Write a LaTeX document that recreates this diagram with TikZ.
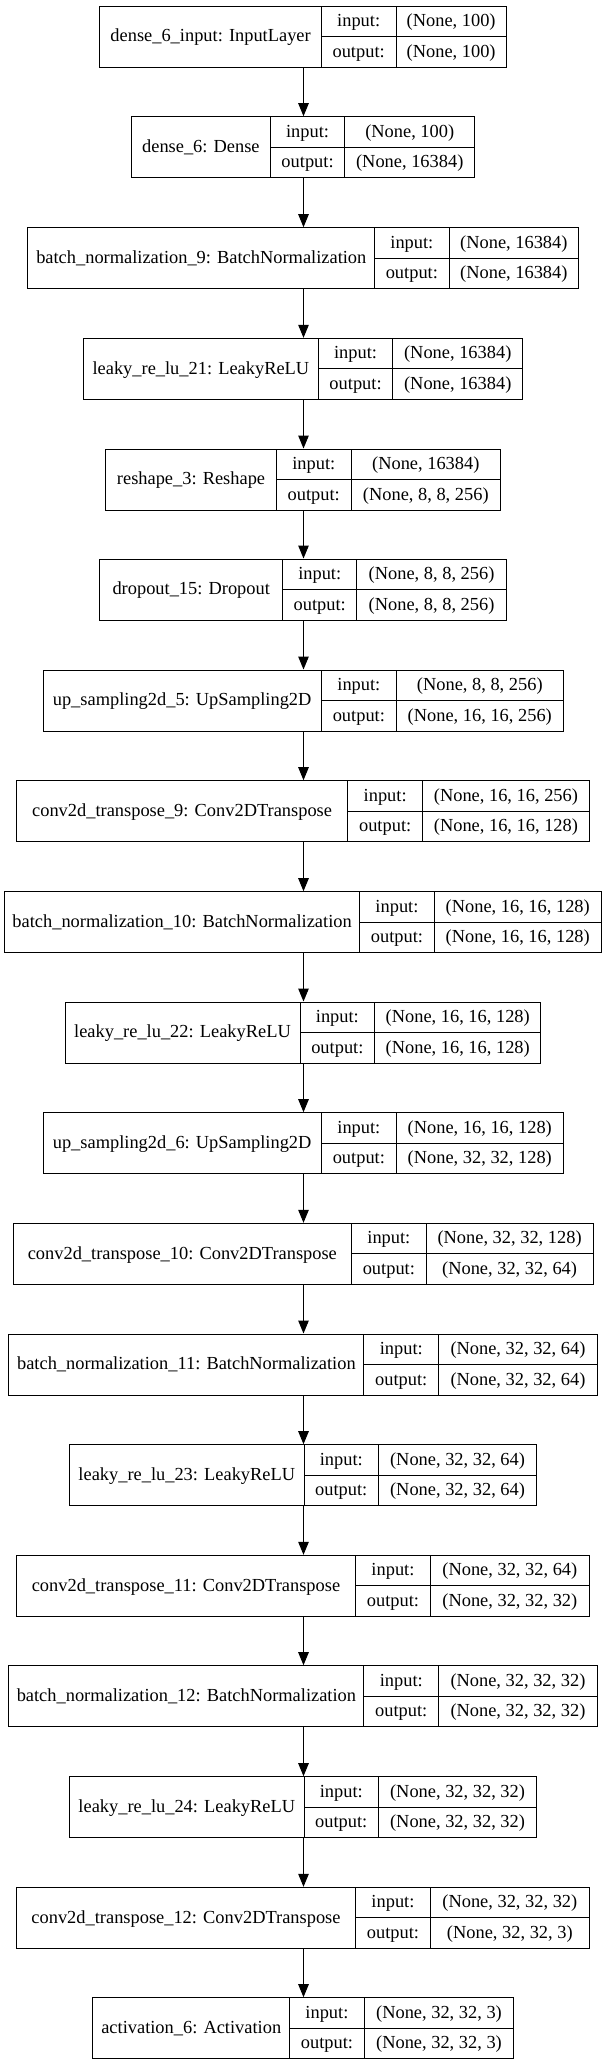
\documentclass[tikz,border=0pt]{standalone}
\usepackage{fontspec}
\setmainfont{Liberation Serif}
\usetikzlibrary{arrows.meta}
\tikzset{
  box/.style={draw, line width=1pt, inner sep=0pt, rectangle},
  cell/.style={draw, line width=1pt},
  txt/.style={anchor=base, inner sep=0pt, font=\fontsize{18.4}{22}\selectfont},
  arr/.style={line width=1pt, -{Triangle[length=13pt,width=10.5pt]}},
}
% name, L, D1, D2, R, Top, label, input value, output value
\newcommand\lyr[9]{%
  \pgfmathsetmacro\lyrcx{(#2+#5)/2}%
  \pgfmathsetmacro\lyrw{#5-#2}%
  \node[box, minimum width=\lyrw pt, minimum height=61pt] (#1) at (\lyrcx, #6+30.5) {};
  \draw[cell] (#3,#6) -- (#3,#6+61);
  \draw[cell] (#4,#6) -- (#4,#6+61);
  \draw[cell] (#3,#6+30.5) -- (#5,#6+30.5);
  \node[txt] (#1l) at ({(#2+#3)/2}, #6+35.8) {#7};
  \node[txt] (#1i) at ({(#3+#4)/2}, #6+20.55) {input:};
  \node[txt] (#1o) at ({(#3+#4)/2}, #6+51.05) {output:};
  \node[txt] (#1a) at ({(#4+#5)/2}, #6+20.55) {#8};
  \node[txt] (#1b) at ({(#4+#5)/2}, #6+51.05) {#9};
}
\begin{document}
\begin{tikzpicture}[x=1pt, y=-1pt]
\useasboundingbox[fill=white] (0,0) rectangle (607,2065);
\lyr{b1}{99.9}{321.3}{396.0}{506.3}{6}{dense\_6\_input: InputLayer}{(None, 100)}{(None, 100)}
\lyr{b2}{131.6}{270.2}{344.9}{474.6}{116.7}{dense\_6: Dense}{(None, 100)}{(None, 16384)}
\lyr{b3}{27.9}{374.7}{449.0}{578.7}{227.7}{batch\_normalization\_9: BatchNormalization}{(None, 16384)}{(None, 16384)}
\lyr{b4}{83.6}{318.2}{392.9}{522.6}{338.3}{leaky\_re\_lu\_21: LeakyReLU}{(None, 16384)}{(None, 16384)}
\lyr{b5}{105.7}{276.4}{351.1}{500.5}{449}{reshape\_3: Reshape}{(None, 16384)}{(None, 8, 8, 256)}
\lyr{b6}{99.9}{282.6}{356.9}{506.3}{559}{dropout\_15: Dropout}{(None, 8, 8, 256)}{(None, 8, 8, 256)}
\lyr{b7}{43.0}{321.3}{396.4}{563.2}{670}{up\_sampling2d\_5: UpSampling2D}{(None, 8, 8, 256)}{(None, 16, 16, 256)}
\lyr{b8}{16.6}{347.6}{422.7}{589.2}{780.7}{conv2d\_transpose\_9: Conv2DTranspose}{(None, 16, 16, 256)}{(None, 16, 16, 128)}
\lyr{b9}{4.6}{359.6}{434.3}{601.2}{891.7}{batch\_normalization\_10: BatchNormalization}{(None, 16, 16, 128)}{(None, 16, 16, 128)}
\lyr{b10}{65.0}{300.0}{374.7}{540.8}{1002}{leaky\_re\_lu\_22: LeakyReLU}{(None, 16, 16, 128)}{(None, 16, 16, 128)}
\lyr{b11}{43.0}{321.3}{396.4}{563.2}{1112.7}{up\_sampling2d\_6: UpSampling2D}{(None, 16, 16, 128)}{(None, 32, 32, 128)}
\lyr{b12}{13.2}{351.5}{426.2}{593.0}{1223.3}{conv2d\_transpose\_10: Conv2DTranspose}{(None, 32, 32, 128)}{(None, 32, 32, 64)}
\lyr{b13}{8.9}{363.9}{438.6}{597.3}{1334}{batch\_normalization\_11: BatchNormalization}{(None, 32, 32, 64)}{(None, 32, 32, 64)}
\lyr{b14}{69.3}{304.3}{378.2}{536.9}{1444.7}{leaky\_re\_lu\_23: LeakyReLU}{(None, 32, 32, 64)}{(None, 32, 32, 64)}
\lyr{b15}{16.6}{355.4}{430.5}{589.2}{1555.3}{conv2d\_transpose\_11: Conv2DTranspose}{(None, 32, 32, 64)}{(None, 32, 32, 32)}
\lyr{b16}{8.9}{363.9}{438.6}{597.3}{1665.7}{batch\_normalization\_12: BatchNormalization}{(None, 32, 32, 32)}{(None, 32, 32, 32)}
\lyr{b17}{69.3}{304.3}{378.2}{536.9}{1776.7}{leaky\_re\_lu\_24: LeakyReLU}{(None, 32, 32, 32)}{(None, 32, 32, 32)}
\lyr{b18}{16.6}{355.4}{430.5}{589.2}{1887.3}{conv2d\_transpose\_12: Conv2DTranspose}{(None, 32, 32, 32)}{(None, 32, 32, 3)}
\lyr{b19}{92.9}{289.6}{364.3}{513.7}{1997.7}{activation\_6: Activation}{(None, 32, 32, 3)}{(None, 32, 32, 3)}
\coordinate (ax) at (303.5,0);
\foreach \a/\b in {b1/b2,b2/b3,b3/b4,b4/b5,b5/b6,b6/b7,b7/b8,b8/b9,b9/b10,b10/b11,b11/b12,b12/b13,b13/b14,b14/b15,b15/b16,b16/b17,b17/b18,b18/b19}
  \draw[arr] (\a.south -| ax) -- (\b.north -| ax);
\end{tikzpicture}
\end{document}
